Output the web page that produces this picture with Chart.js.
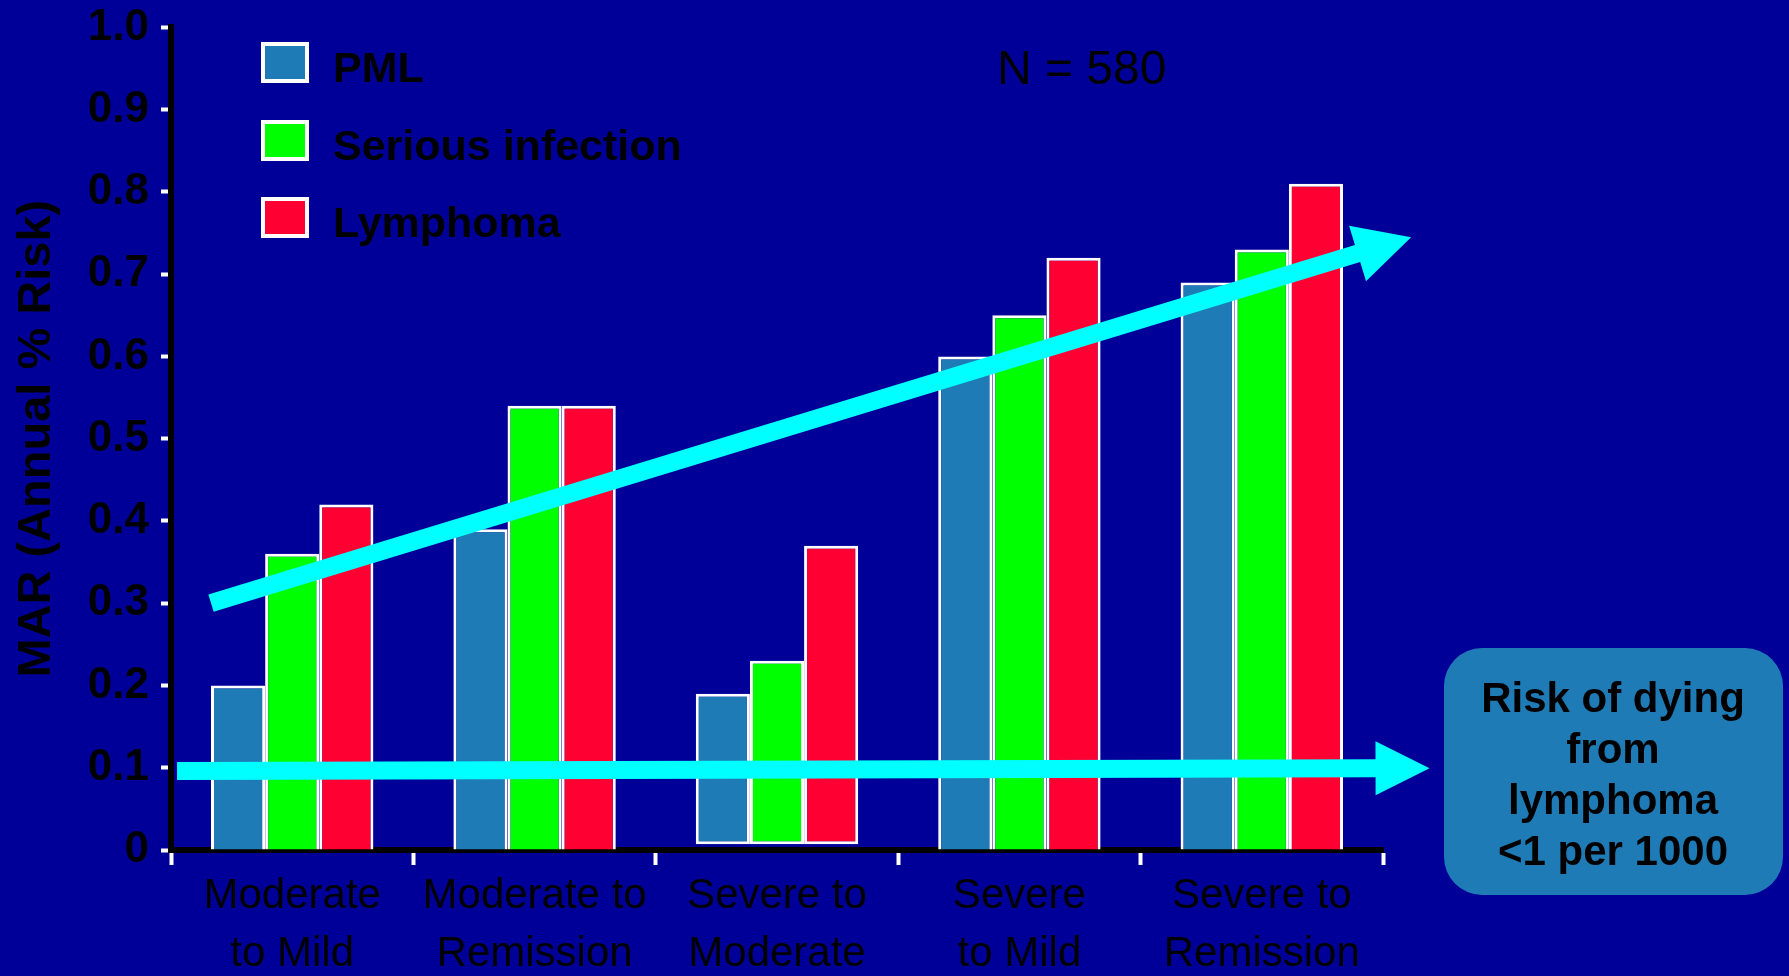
<!DOCTYPE html>
<html>
<head>
<meta charset="utf-8">
<script src="https://cdn.jsdelivr.net/npm/chart.js@4.4.1/dist/chart.umd.min.js"></script>
<style>
  html, body { margin: 0; padding: 0; background: #000099; }
  canvas { display: block; }
</style>
</head>
<body>
<canvas id="grafico" width="1789" height="976"></canvas>
<script>
// datos
const categorias = [["Moderate", "to Mild"], ["Moderate to", "Remission"], ["Severe to", "Moderate"], ["Severe", "to Mild"], ["Severe to", "Remission"]]
const pml = [0.20, 0.39, 0.19, 0.60, 0.69]
const infeccion = [0.36, 0.54, 0.23, 0.65, 0.73]
const linfoma = [0.42, 0.54, 0.37, 0.72, 0.81]
const baseGrupo = [0, 0, 0.007, 0, 0]
const ticksY = ["0", "0.1", "0.2", "0.3", "0.4", "0.5", "0.6", "0.7", "0.8", "0.9", "1.0"]
const textoCaja = ["Risk of dying", "from", "lymphoma", "<1 per 1000"]

const fuente = "'Liberation Sans', Arial, sans-serif"

const colores = { pml: "#1f7bb6", infeccion: "#00ff00", linfoma: "#ff0033", flecha: "#00ffff" }

const flecha = (ctx, x0, y0, x1, y1, grosor, largoPunta, anchoPunta) => {
  const len = Math.hypot(x1 - x0, y1 - y0)
  const ux = (x1 - x0) / len, uy = (y1 - y0) / len
  const nx = -uy, ny = ux
  const bx = x1 - ux * largoPunta, by = y1 - uy * largoPunta
  ctx.beginPath()
  ctx.moveTo(x0 + nx * grosor / 2, y0 + ny * grosor / 2)
  ctx.lineTo(bx + nx * grosor / 2, by + ny * grosor / 2)
  ctx.lineTo(bx + nx * anchoPunta / 2, by + ny * anchoPunta / 2)
  ctx.lineTo(x1, y1)
  ctx.lineTo(bx - nx * anchoPunta / 2, by - ny * anchoPunta / 2)
  ctx.lineTo(bx - nx * grosor / 2, by - ny * grosor / 2)
  ctx.lineTo(x0 - nx * grosor / 2, y0 - ny * grosor / 2)
  ctx.closePath()
  ctx.fill()
}

// flechas, leyenda, N y caja de texto
const anotaciones = {
  id: "anotaciones",
  afterDatasetsDraw(chart) {
    const ctx = chart.ctx
    const xs = chart.scales.x, ys = chart.scales.y
    const px = (i, v) => [xs.getPixelForValue(i), ys.getPixelForValue(v)]
    ctx.save()
    ctx.fillStyle = colores.flecha
    let a = px(-0.335, 0.30), b = px(4.616, 0.745)
    flecha(ctx, a[0], a[1], b[0], b[1], 18, 56, 58)
    a = px(-0.475, 0.096); b = px(4.692, 0.0995)
    flecha(ctx, a[0], a[1], b[0], b[1], 18, 54, 54)

    // leyenda
    const tops = [42, 120, 197]
    chart.data.datasets.forEach((ds, i) => {
      ctx.fillStyle = "white"
      ctx.fillRect(261, tops[i], 48, 41)
      ctx.fillStyle = ds.backgroundColor
      ctx.fillRect(265, tops[i] + 4, 40, 33)
      ctx.fillStyle = "black"
      ctx.font = "bold 43px " + fuente
      ctx.textAlign = "left"
      ctx.textBaseline = "alphabetic"
      ctx.fillText(ds.label, 333, tops[i] + 40)
    })

    ctx.font = "48px " + fuente
    ctx.fillText("N = 580", 997, 84)

    // caja
    ctx.fillStyle = colores.pml
    ctx.beginPath()
    ctx.roundRect(1444, 648, 339, 247, 38)
    ctx.fill()
    ctx.fillStyle = "black"
    ctx.font = "bold 42px " + fuente
    ctx.textAlign = "center"
    textoCaja.forEach((t, i) => ctx.fillText(t, 1613, 712 + i * 51))
    ctx.restore()
  }
}

const serie = (label, valores, color) => ({
  label: label,
  data: valores.map((v, i) => [baseGrupo[i], v]),
  backgroundColor: color,
  borderColor: "white",
  borderWidth: 3,
  borderSkipped: (c) => baseGrupo[c.dataIndex] > 0 ? false : "start",
  categoryPercentage: 0.67,
  barPercentage: 1
})

const config = {
  type: "bar",
  data: {
    labels: categorias,
    datasets: [
      serie("PML", pml, colores.pml),
      serie("Serious infection", infeccion, colores.infeccion),
      serie("Lymphoma", linfoma, colores.linfoma)
    ]
  },
  options: {
    responsive: false,
    animation: false,
    layout: { padding: { left: 0, top: 0, right: 406, bottom: 0 } },
    plugins: { legend: { display: false }, tooltip: { enabled: false } },
    scales: {
      x: {
        grid: { drawOnChartArea: false, offset: true, tickLength: 15, tickColor: "white", tickWidth: 4 },
        border: { color: "black", width: 6 },
        ticks: { color: "black", font: { family: fuente, size: 42, lineHeight: 1.38 }, padding: 2, maxRotation: 0, autoSkip: false },
        afterFit: (s) => { s.height = 126 }
      },
      y: {
        min: 0,
        max: 1,
        ticks: { stepSize: 0.1, color: "black", font: { family: fuente, weight: "bold", size: 44, lineHeight: 0.7 }, padding: 12, callback: (v, i) => ticksY[i] },
        grid: { drawOnChartArea: false, tickLength: 10, tickColor: "white", tickWidth: 4 },
        border: { color: "black", width: 6 },
        title: { display: true, text: "MAR (Annual % Risk)", color: "black", font: { family: fuente, weight: "bold", size: 47 }, padding: { top: 9, bottom: 0 } },
        afterFit: (s) => { s.width = 171 }
      }
    }
  },
  plugins: [anotaciones]
}

const miGrafico = new Chart(document.getElementById("grafico"), config)
</script>
</body>
</html>
